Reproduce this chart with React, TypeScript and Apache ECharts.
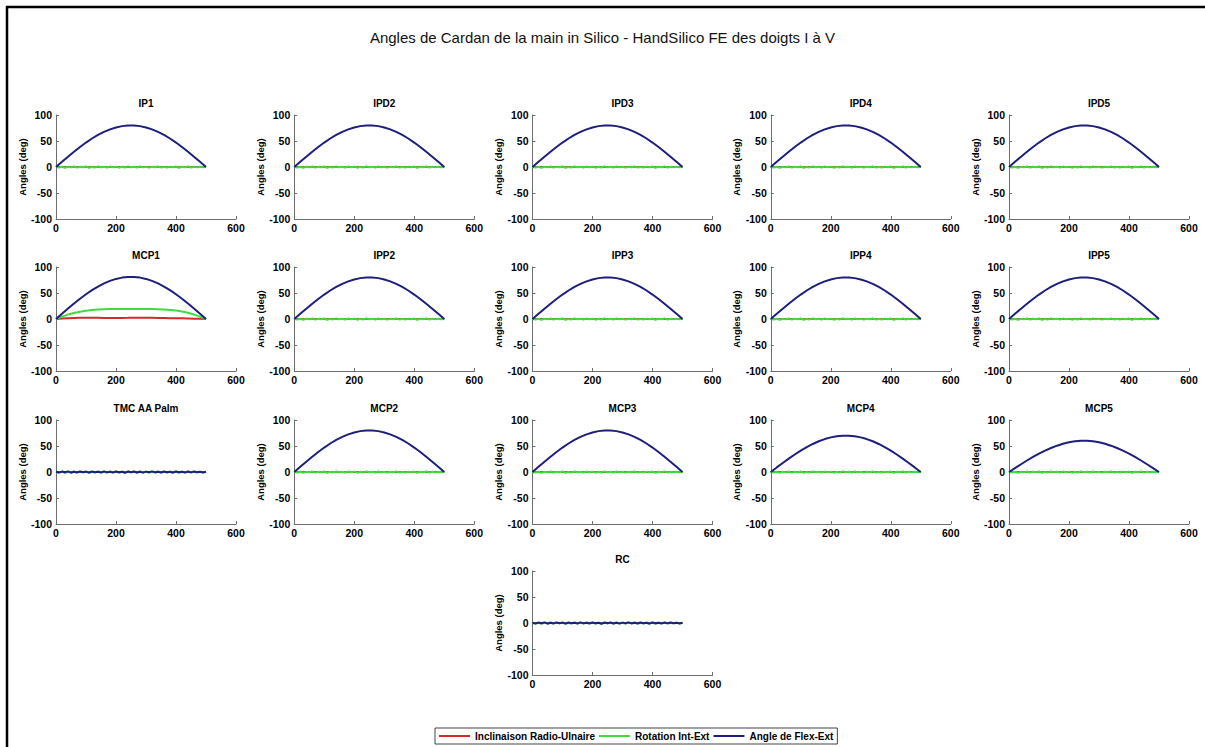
import React, { useEffect, useRef } from "react";
import * as echarts from "echarts";

// ---------- data ----------
const xCurve = [0, 20, 40, 60, 80, 100, 120, 140, 160, 180, 200, 220, 240, 260, 280, 300, 320, 340, 360, 380, 400, 420, 440, 460, 480, 500];
const xNoise = [0, 10, 20, 30, 40, 50, 60, 70, 80, 90, 100, 110, 120, 130, 140, 150, 160, 170, 180, 190, 200, 210, 220, 230, 240, 250, 260, 270, 280, 290, 300, 310, 320, 330, 340, 350, 360, 370, 380, 390, 400, 410, 420, 430, 440, 450, 460, 470, 480, 490, 500];

// Angle de Flex-Ext, peak ~80 deg
const flex80 = [0, 10.0, 19.9, 29.4, 38.5, 47.0, 54.8, 61.6, 67.5, 72.4, 76.1, 78.6, 79.8, 79.8, 78.6, 76.1, 72.4, 67.5, 61.6, 54.8, 47.0, 38.5, 29.4, 19.9, 10.0, 0];
// MCP1 flex, peak ~81
const flexMCP1 = [0, 10.2, 20.2, 29.8, 39.0, 47.6, 55.5, 62.4, 68.4, 73.3, 77.1, 79.6, 80.8, 80.8, 79.6, 77.1, 73.3, 68.4, 62.4, 55.5, 47.6, 39.0, 29.8, 20.2, 10.2, 0];
// MCP4 flex, peak ~70
const flex70 = [0, 8.8, 17.4, 25.8, 33.7, 41.1, 47.9, 53.9, 59.1, 63.3, 66.6, 68.8, 69.9, 69.9, 68.8, 66.6, 63.3, 59.1, 53.9, 47.9, 41.1, 33.7, 25.8, 17.4, 8.8, 0];
// MCP5 flex, peak ~60
const flex60 = [0, 7.5, 14.9, 22.1, 28.9, 35.3, 41.1, 46.2, 50.6, 54.3, 57.1, 59.0, 59.9, 59.9, 59.0, 57.1, 54.3, 50.6, 46.2, 41.1, 35.3, 28.9, 22.1, 14.9, 7.5, 0];

// MCP1 rotation and inclination
const rotMCP1 = [0, 4.5, 8.5, 11.5, 14.0, 16.0, 17.3, 18.2, 18.8, 19.1, 19.2, 19.2, 19.2, 19.2, 19.2, 19.1, 19.0, 18.8, 18.3, 17.5, 16.3, 14.5, 12.0, 8.5, 4.5, 0];
const inclMCP1 = [0, 0.8, 1.5, 2.0, 2.3, 2.5, 2.4, 2.2, 2.0, 1.8, 1.8, 2.0, 2.2, 2.5, 2.6, 2.5, 2.3, 2.0, 1.8, 1.6, 1.5, 1.3, 1.0, 0.7, 0.4, 0];

// near-zero traces
const rotNoise = [0, -0.9, 0.6, -1.4, 0.3, -0.7, 1.1, -1.2, 0.5, -0.4, 0.9, -1.5, 0.2, -0.8, 1.0, -0.6, 0.4, -1.1, 0.8, -0.3, 0.7, -1.3, 0.5, -0.9, 1.2, -0.5, 0.3, -1.0, 0.9, -0.7, 0.6, -1.2, 0.4, -0.6, 1.0, -0.8, 0.2, -1.1, 0.7, -0.4, 0.8, -1.4, 0.5, -0.5, 1.1, -0.9, 0.3, -0.7, 0.6, -0.3, 0];
const flexNoise = [0.5, -1.0, 0.8, -0.6, 1.2, -1.3, 0.4, -0.8, 1.0, -0.5, 0.7, -1.2, 0.9, -0.4, 0.6, -1.1, 1.3, -0.7, 0.3, -0.9, 1.1, -0.6, 0.5, -1.4, 0.8, -0.3, 1.0, -0.9, 0.4, -1.2, 0.7, -0.5, 1.2, -0.8, 0.3, -1.0, 0.9, -0.6, 0.6, -1.3, 1.0, -0.4, 0.5, -1.1, 0.8, -0.7, 1.1, -0.5, 0.4, -0.9, 0.6];
const inclFlat = [0, 0, 0, 0, 0, 0, 0, 0, 0, 0, 0, 0, 0, 0, 0, 0, 0, 0, 0, 0, 0, 0, 0, 0, 0, 0];

const panelNames = ["IP1", "IPD2", "IPD3", "IPD4", "IPD5", "MCP1", "IPP2", "IPP3", "IPP4", "IPP5", "TMC AA Palm", "MCP2", "MCP3", "MCP4", "MCP5", "RC"];
const seriesNames = ["Inclinaison Radio-Ulnaire", "Rotation Int-Ext", "Angle de Flex-Ext"];
const xTicks = { min: 0, max: 600, interval: 200 };
const yTicks = { min: -100, max: 100, interval: 50 };
const mainTitle = "Angles de Cardan de la main in Silico - HandSilico FE des doigts I à V";

type Trace = { x: number[]; y: number[] };
const c = (y: number[]): Trace => ({ x: xCurve, y });
const n = (y: number[]): Trace => ({ x: xNoise, y });

// per panel: [inclinaison, rotation, flexion]
const panelData: Trace[][] = [
  [c(inclFlat), n(rotNoise), c(flex80)],
  [c(inclFlat), n(rotNoise), c(flex80)],
  [c(inclFlat), n(rotNoise), c(flex80)],
  [c(inclFlat), n(rotNoise), c(flex80)],
  [c(inclFlat), n(rotNoise), c(flex80)],
  [c(inclMCP1), c(rotMCP1), c(flexMCP1)],
  [c(inclFlat), n(rotNoise), c(flex80)],
  [c(inclFlat), n(rotNoise), c(flex80)],
  [c(inclFlat), n(rotNoise), c(flex80)],
  [c(inclFlat), n(rotNoise), c(flex80)],
  [c(inclFlat), n(rotNoise), n(flexNoise)],
  [c(inclFlat), n(rotNoise), c(flex80)],
  [c(inclFlat), n(rotNoise), c(flex80)],
  [c(inclFlat), n(rotNoise), c(flex70)],
  [c(inclFlat), n(rotNoise), c(flex60)],
  [c(inclFlat), n(rotNoise), n(flexNoise)],
];

// ---------- layout / style ----------
const FONT = "'Liberation Sans', Arial, Helvetica, sans-serif";
const COLORS = ["#d42a2a", "#3fdc3f", "#1e1f7c"];
const WIDTHS = [2, 2, 2];
const gridLefts = [56, 294.25, 532.5, 770.75, 1009];
const gridTops = [115, 267, 420, 571];
const GW = 180;
const GH = 104;
const AXIS_COLOR = "#6e6e6e";

export default function App() {
  const ref = useRef<HTMLDivElement>(null);

  useEffect(() => {
    if (!ref.current) return;
    const chart = echarts.init(ref.current, undefined, { renderer: "svg" });

    const grids: any[] = [];
    const xAxes: any[] = [];
    const yAxes: any[] = [];
    const series: any[] = [];
    const graphics: any[] = [];

    panelNames.forEach((name, i) => {
      const row = i < 15 ? Math.floor(i / 5) : 3;
      const col = i < 15 ? i % 5 : 2;
      const left = gridLefts[col];
      const top = gridTops[row];
      grids.push({ left, top, width: GW, height: GH, containLabel: false });
      xAxes.push({
        gridIndex: i,
        type: "value",
        min: xTicks.min,
        max: xTicks.max,
        interval: xTicks.interval,
        axisLine: { show: true, onZero: false, lineStyle: { color: AXIS_COLOR, width: 1 } },
        axisTick: { show: true, inside: true, length: 3, lineStyle: { color: AXIS_COLOR } },
        axisLabel: { color: "#000", fontSize: 10.5, fontWeight: "bold", fontFamily: FONT, margin: 3 },
        splitLine: { show: false },
      });
      yAxes.push({
        gridIndex: i,
        type: "value",
        min: yTicks.min,
        max: yTicks.max,
        interval: yTicks.interval,
        name: "Angles (deg)",
        nameLocation: "middle",
        nameGap: 27,
        nameTextStyle: { color: "#000", fontSize: 9.5, fontWeight: "bold", fontFamily: FONT },
        axisLine: { show: true, onZero: false, lineStyle: { color: AXIS_COLOR, width: 1 } },
        axisTick: { show: true, inside: true, length: 3, lineStyle: { color: AXIS_COLOR } },
        axisLabel: { color: "#000", fontSize: 10.5, fontWeight: "bold", fontFamily: FONT, margin: 4 },
        splitLine: { show: false },
      });
      graphics.push({
        type: "text",
        x: left + GW / 2,
        y: top - 12,
        style: {
          text: name,
          textAlign: "center",
          textVerticalAlign: "middle",
          fill: "#000",
          font: `bold 10px ${FONT}`,
        },
      });
      panelData[i].forEach((tr, k) => {
        series.push({
          name: seriesNames[k],
          type: "line",
          xAxisIndex: i,
          yAxisIndex: i,
          showSymbol: false,
          symbol: "none",
          silent: true,
          color: COLORS[k],
          lineStyle: { color: COLORS[k], width: WIDTHS[k] },
          z: 2 + k,
          data: tr.x.map((xv, j) => [xv, tr.y[j]]),
        });
      });
    });

    // figure frame (top and left edges)
    graphics.push({ type: "line", shape: { x1: 6, y1: 7, x2: 1205, y2: 7 }, style: { stroke: "#000", lineWidth: 2.5 } });
    graphics.push({ type: "line", shape: { x1: 7, y1: 6, x2: 7, y2: 747 }, style: { stroke: "#000", lineWidth: 2.5 } });

    chart.setOption({
      animation: false,
      backgroundColor: "#fff",
      title: {
        text: mainTitle,
        left: "center",
        top: 25,
        textStyle: { fontSize: 15, fontWeight: "normal", color: "#111", fontFamily: FONT },
      },
      legend: {
        data: seriesNames,
        bottom: 3,
        left: 435,
        icon: "rect",
        itemWidth: 31,
        itemHeight: 2,
        itemGap: 4,
        padding: [3, 4, 3, 4],
        borderColor: "#444",
        borderWidth: 1,
        textStyle: { fontSize: 10, fontWeight: "bold", color: "#000", fontFamily: FONT },
      },
      grid: grids,
      xAxis: xAxes,
      yAxis: yAxes,
      series,
      graphic: graphics,
    });

    return () => chart.dispose();
  }, []);

  return (
    <div
      ref={ref}
      style={{ position: "absolute", left: 0, top: 0, width: 1205, height: 747, background: "#fff" }}
    />
  );
}
